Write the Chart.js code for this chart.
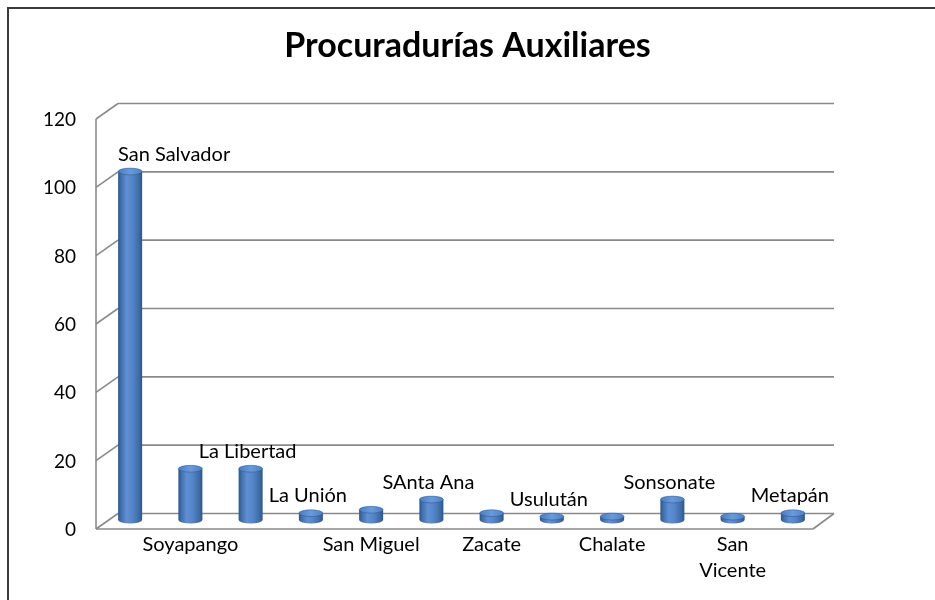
<!DOCTYPE html>
<html>
<head>
<meta charset="utf-8">
<script src="https://cdn.jsdelivr.net/npm/chart.js@4.4.1/dist/chart.umd.min.js"></script>
<style>
html,body{margin:0;padding:0;background:#fff;}
canvas{display:block;}
</style>
</head>
<body>
<canvas id="c" width="935" height="600"></canvas>
<script>
// ---- data ----
const categories = ['San Salvador', 'Soyapango', 'La Libertad', 'La Unión', 'San Miguel', 'SAnta Ana',
                    'Zacate', 'Usulután', 'Chalate', 'Sonsonate', ['San', 'Vicente'], 'Metapán'];
const values = [102, 15, 15, 2, 3, 6, 2, 1, 1, 6, 1, 2];
const labelsOverBars = [0, 2, 3, 5, 7, 9, 11];   // category names written above their bar
const yMin = 0, yMax = 120, yStep = 20;
const chartTitle = 'Procuradurías Auxiliares';

// ---- plugins ----
const framePlugin = {
  id: 'frame',
  beforeDraw(chart) {
    const ctx = chart.ctx;
    ctx.save();
    ctx.fillStyle = '#ffffff';
    ctx.fillRect(0, 0, chart.width, chart.height);
    ctx.restore();
  },
  afterDraw(chart) {
    const ctx = chart.ctx;
    ctx.save();
    ctx.strokeStyle = '#3a3a3a';
    ctx.lineWidth = 2;
    ctx.beginPath();
    ctx.moveTo(8, chart.height);
    ctx.lineTo(8, 8);
    ctx.lineTo(chart.width, 8);
    ctx.stroke();
    ctx.restore();
  }
};

const wallsPlugin = {
  id: 'walls',
  beforeDatasetsDraw(chart) {
    const ctx = chart.ctx, a = chart.chartArea, y = chart.scales.y;
    const fl = a.left - 4, bl = a.left + 18, fr = a.right - 10, br = a.right + 11;
    const dB = -6.5, dF = 9;
    const line = (x1, y1, x2, y2) => { ctx.beginPath(); ctx.moveTo(x1, y1); ctx.lineTo(x2, y2); ctx.stroke(); };
    ctx.save();
    ctx.strokeStyle = '#8a8a8a';
    ctx.lineWidth = 1.6;
    y.ticks.forEach(t => {
      const py = y.getPixelForValue(t.value);
      line(fl, py + dF, bl, py + dB);
      line(bl, py + dB, br, py + dB);
    });
    const pTop = y.getPixelForValue(y.max), p0 = y.getPixelForValue(0);
    line(fl, pTop + dF, fl, p0 + dF);
    line(fl, p0 + dF, fr, p0 + dF);
    line(fr, p0 + dF, br, p0 + dB);
    ctx.restore();
  }
};

const cylinderPlugin = {
  id: 'cylinders',
  afterDatasetsDraw(chart) {
    const ctx = chart.ctx;
    const meta = chart.getDatasetMeta(0);
    ctx.save();
    meta.data.forEach(bar => {
      const p = bar.getProps(['x', 'y', 'base', 'width'], true);
      const x = p.x, top = p.y, base = p.base, rx = p.width / 2, ry = 3.4;
      const g = ctx.createLinearGradient(x - rx, 0, x + rx, 0);
      g.addColorStop(0, '#2c5689');
      g.addColorStop(0.12, '#3f6fad');
      g.addColorStop(0.35, '#5e90d3');
      g.addColorStop(0.6, '#5485c8');
      g.addColorStop(0.88, '#3c6aa6');
      g.addColorStop(1, '#2c5689');
      ctx.fillStyle = g;
      ctx.beginPath();
      ctx.moveTo(x - rx, top);
      ctx.lineTo(x - rx, base);
      ctx.ellipse(x, base, rx, ry, 0, Math.PI, 0, true);
      ctx.lineTo(x + rx, top);
      ctx.closePath();
      ctx.fill();
      const gt = ctx.createLinearGradient(x - rx, 0, x + rx, 0);
      gt.addColorStop(0, '#4b7cc0');
      gt.addColorStop(0.5, '#6a9ad9');
      gt.addColorStop(1, '#4f80c2');
      ctx.fillStyle = gt;
      ctx.beginPath();
      ctx.ellipse(x, top, rx, ry, 0, 0, Math.PI * 2);
      ctx.fill();
      ctx.strokeStyle = 'rgba(40,80,130,0.6)';
      ctx.lineWidth = 0.8;
      ctx.stroke();
    });
    ctx.restore();
  }
};

const overLabelPlugin = {
  id: 'overLabels',
  afterDatasetsDraw(chart) {
    const ctx = chart.ctx, a = chart.chartArea;
    const meta = chart.getDatasetMeta(0);
    ctx.save();
    ctx.font = '20px Lato';
    ctx.fillStyle = '#000';
    ctx.textAlign = 'center';
    ctx.textBaseline = 'alphabetic';
    labelsOverBars.forEach(i => {
      const bar = meta.data[i];
      const txt = Array.isArray(categories[i]) ? categories[i].join(' ') : categories[i];
      const w = ctx.measureText(txt).width;
      const cx = Math.max(bar.x - 3, a.left + 18 + w / 2);
      ctx.fillText(txt, cx, bar.y - 11);
    });
    ctx.restore();
  }
};

// ---- chart ----
new Chart(document.getElementById('c'), {
  type: 'bar',
  data: {
    labels: categories,
    datasets: [{
      data: values,
      backgroundColor: 'rgba(0,0,0,0)',
      borderWidth: 0,
      barThickness: 24,
      yAxisID: 'y'
    }]
  },
  options: {
    responsive: false,
    animation: false,
    devicePixelRatio: 1,
    layout: { padding: 0 },
    plugins: {
      legend: { display: false },
      tooltip: { enabled: false },
      title: {
        display: true,
        text: chartTitle,
        color: '#000',
        font: { family: 'Lato', size: 34, weight: 'bold', lineHeight: 1.2 },
        padding: { top: 26, bottom: 43.2 }
      }
    },
    scales: {
      x: {
        grid: { display: false, drawTicks: false },
        border: { display: false },
        ticks: {
          autoSkip: false,
          maxRotation: 0,
          minRotation: 0,
          padding: 12,
          color: '#000',
          font: { family: 'Lato', size: 20, lineHeight: 1.3 },
          callback: (v, i) => labelsOverBars.includes(i) ? '' : categories[i]
        },
        afterFit: s => { s.height = 80; }
      },
      y: {
        min: yMin,
        max: yMax,
        grid: { display: false, drawTicks: false },
        border: { display: false },
        ticks: {
          stepSize: yStep,
          padding: 24,
          labelOffset: 10,
          color: '#000',
          font: { family: 'Lato', size: 19 }
        },
        afterFit: s => { s.width = 100; }
      },
      yRight: {
        position: 'right',
        display: true,
        grid: { display: false, drawTicks: false },
        border: { display: false },
        ticks: { display: false },
        afterFit: s => { s.width = 112; }
      }
    }
  },
  plugins: [framePlugin, wallsPlugin, cylinderPlugin, overLabelPlugin]
});
</script>
</body>
</html>
